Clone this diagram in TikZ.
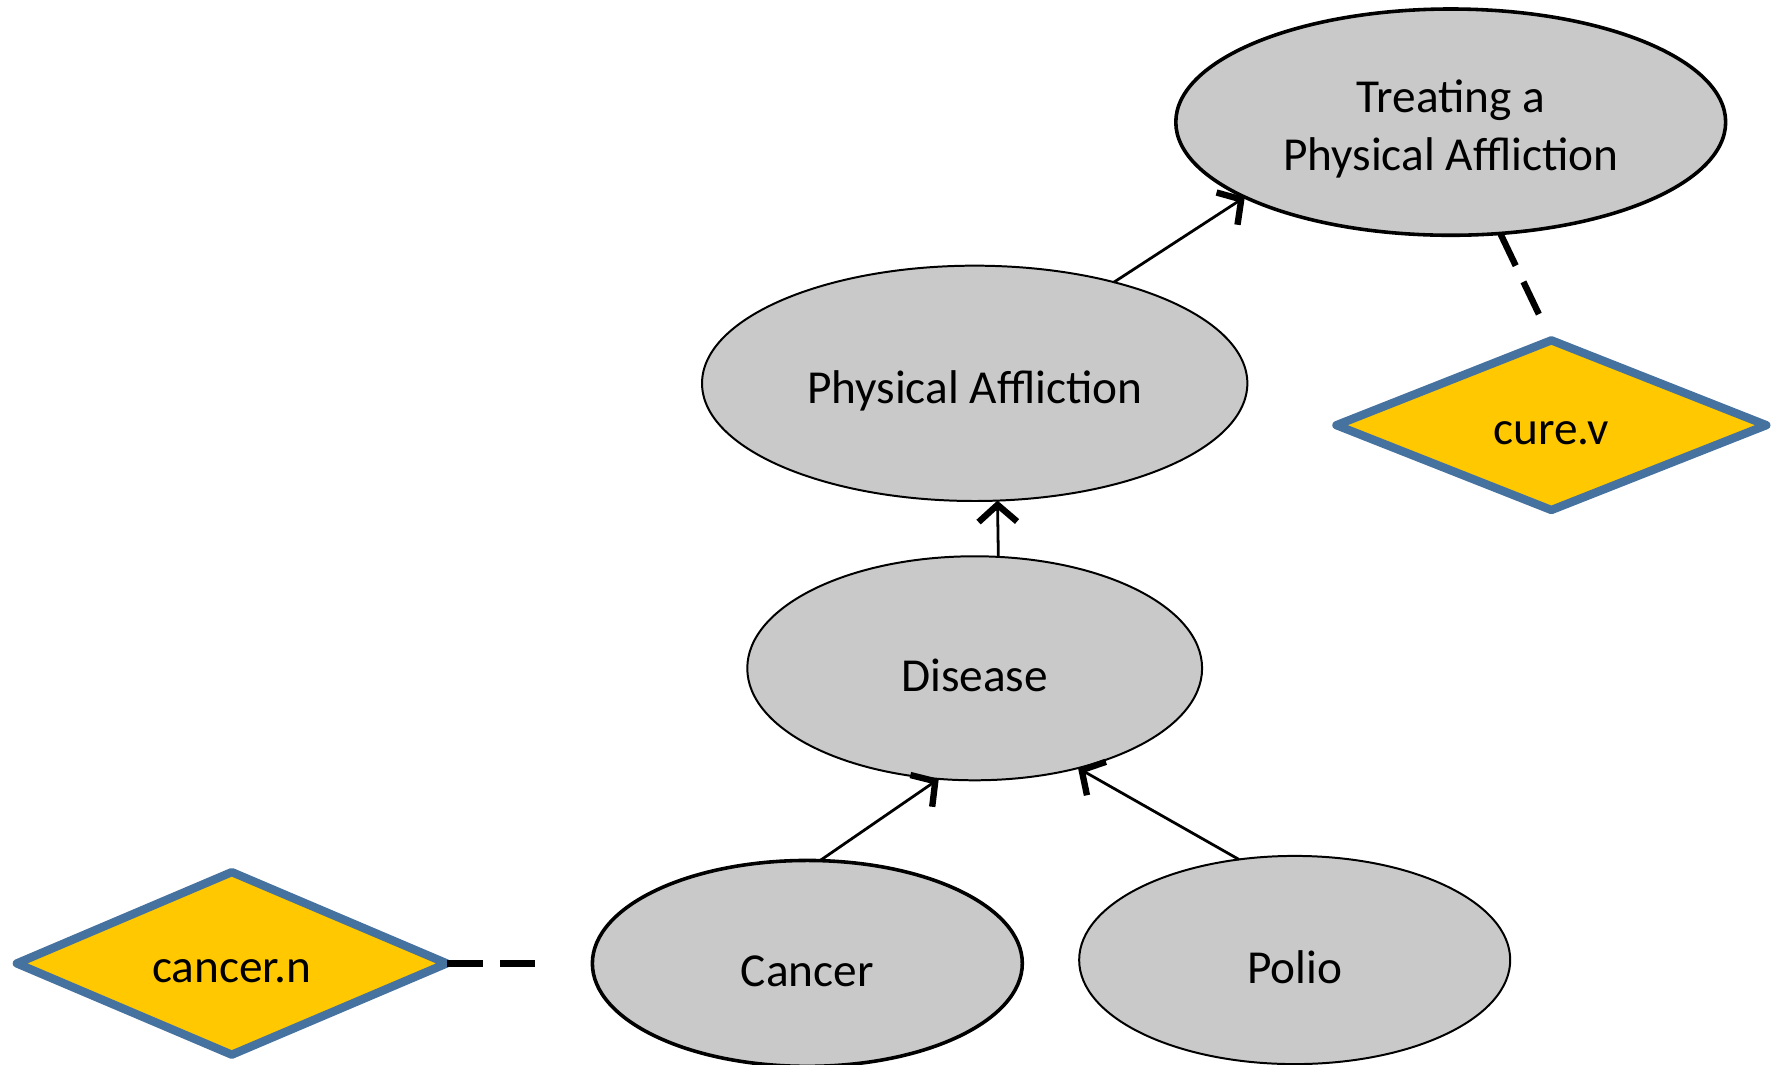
\documentclass[tikz,border=0pt]{standalone}
\usepackage{fontspec}
\setmainfont{Carlito}
\usetikzlibrary{shapes.geometric,arrows.meta}
\definecolor{nodegray}{RGB}{201,201,201}
\definecolor{lexyellow}{RGB}{255,200,0}
\definecolor{lexblue}{RGB}{70,114,160}
\newcommand{\lowtext}[1]{\raisebox{-1.9pt}[\height][\depth]{#1}}
\begin{document}
\begin{tikzpicture}[x=0.01cm,y=-0.01cm,
  frame/.style={ellipse, draw=black, fill=nodegray, line width=0.5pt, inner sep=0pt, outer sep=0pt, align=center, font=\fontsize{11.9}{14.5}\selectfont},
  boldframe/.style={frame, line width=0.9pt},
  lex/.style={diamond, draw=lexblue, fill=lexyellow, line width=2.1pt, line join=round, inner sep=0pt, outer sep=0pt, minimum width=3.80cm, minimum height=1.50cm, font=\fontsize{11.9}{14.5}\selectfont},
  isa/.style={line width=0.7pt, -{Straight Barb[length=1.5mm,width=3.4mm,line width=1.6pt]}},
  evokes/.style={line width=1.6pt, dash pattern=on 9pt off 4.5pt}]
\useasboundingbox (0,0) rectangle (1568,941);

\node[boldframe, minimum width=4.86cm, minimum height=2.00cm] (treat) at (1283,108) {\lowtext{\begin{tabular}{@{}c@{}}Treating a\\Physical Affliction\end{tabular}}};
\node[frame, minimum width=4.82cm, minimum height=2.08cm] (phys) at (862,339) {\lowtext{Physical Affliction}};
\node[frame, minimum width=4.02cm, minimum height=1.98cm] (dis) at (862,591) {\lowtext{Disease}};
\node[boldframe, minimum width=3.80cm, minimum height=1.82cm] (canc) at (714,852) {\lowtext{Cancer}};
\node[frame, minimum width=3.81cm, minimum height=1.84cm] (polio) at (1145,849) {\lowtext{Polio}};

\node[lex] (cn) at (205,852) {\lowtext{cancer.n}};
\node[lex] (cv) at (1372,376) {\lowtext{cure.v}};

\draw[isa] (phys.36.4) -- (treat.200.1);
\draw[isa] (dis.78) -- (phys.281.3);
\draw[isa] (canc.83.2) -- (dis.252.1);
\draw[isa] (polio.119.5) -- (dis.316.9);

\draw[evokes, shorten >=0.51cm] (cn.east) -- (canc.west);
\draw[evokes, shorten >=0.22cm] (treat.294.2) -- (cv.north);
\end{tikzpicture}
\end{document}
